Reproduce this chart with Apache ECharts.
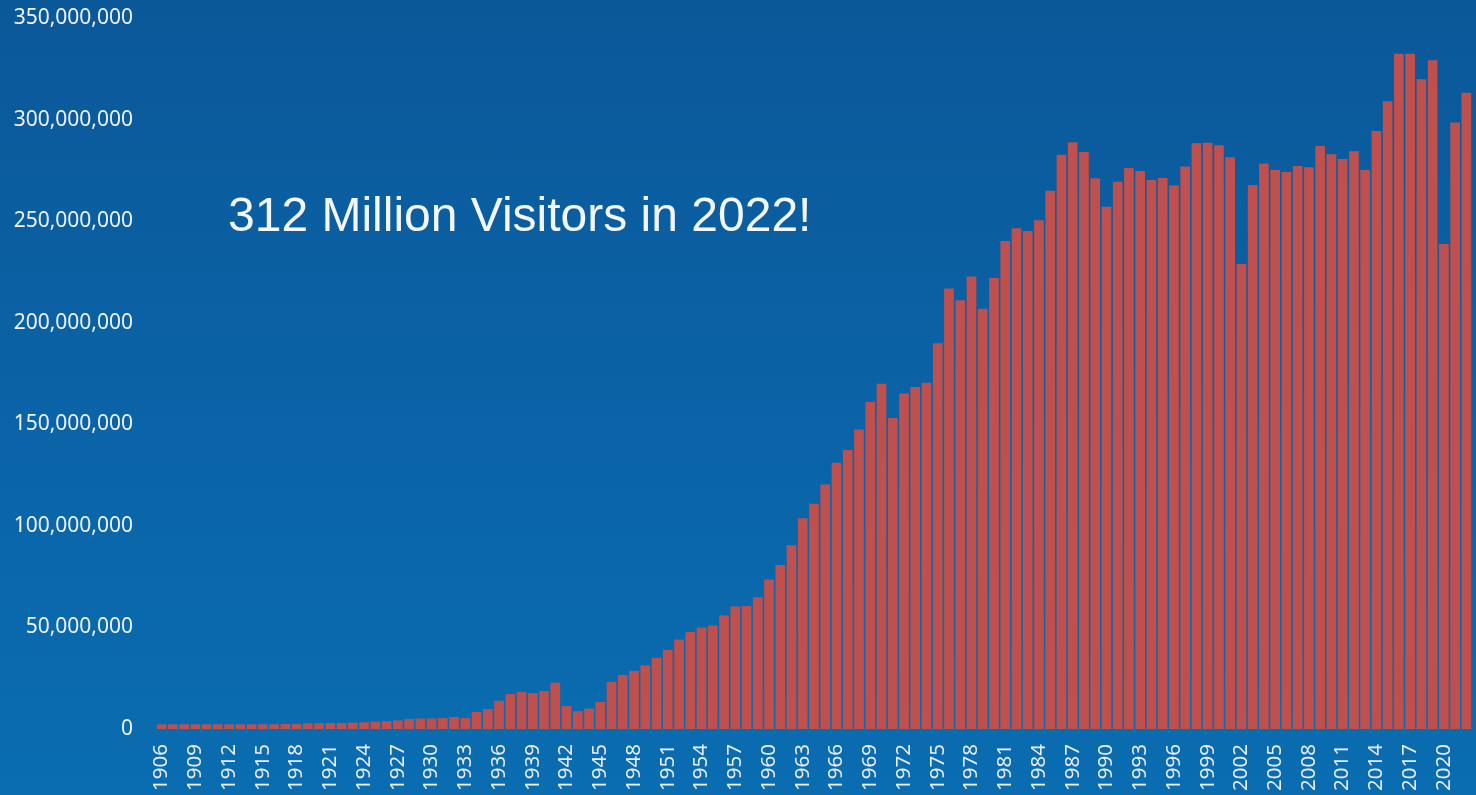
<!DOCTYPE html>
<html>
<head>
<meta charset="utf-8">
<script src="https://cdn.jsdelivr.net/npm/echarts@6/dist/echarts.min.js"></script>
<style>
html,body{margin:0;padding:0;width:1476px;height:795px;overflow:hidden;}
#c{width:1476px;height:795px;background:linear-gradient(180deg,#0b5899 0%,#0a63a6 50%,#0a6db1 100%);}
</style>
</head>
<body>
<div id="c"></div>
<script>
// Years 1906..2022
const years = [];
for (let y = 1906; y <= 2022; y++) years.push(String(y));

// Visitors in millions
const visitorsMillions = [
  2.3, 2.3, 2.3, 2.3, 2.3, 2.3, 2.3, 2.3, 2.3, 2.3,   // 1906-1915
  2.3, 2.5, 2.4, 2.8, 2.9, 2.9, 2.9, 3.1, 3.3, 3.6,   // 1916-1925
  3.8, 4.2, 4.9, 5.2, 5.2, 5.4, 5.9, 5.4, 8.4, 9.8,   // 1926-1935
  13.9, 17.2, 18.2, 17.6, 18.7, 22.8, 11.3, 8.7, 10.0, 13.3, // 1936-1945
  23.1, 26.6, 28.6, 31.3, 35.0, 38.9, 44.1, 47.8, 50.0, 50.9, // 1946-1955
  55.9, 60.3, 60.6, 64.9, 73.6, 80.7, 90.4, 103.7, 110.9, 120.4, // 1956-1965
  131.1, 137.3, 147.4, 161.0, 170.0, 153.1, 165.1, 168.4, 170.5, 189.9, // 1966-1975
  216.9, 211.0, 222.7, 206.9, 222.0, 240.2, 246.5, 245.2, 250.4, 265.0, // 1976-1985
  282.7, 288.8, 284.0, 271.1, 257.1, 269.4, 276.2, 274.7, 270.3, 271.2, // 1986-1995
  267.5, 276.9, 288.3, 288.6, 287.3, 281.4, 228.9, 267.8, 278.4, 275.2, // 1996-2005
  274.2, 277.1, 276.5, 287.0, 282.9, 280.6, 284.4, 275.2, 294.4, 309.0, // 2006-2015
  332.4, 332.4, 319.8, 329.2, 238.8, 298.6, 313.2                       // 2016-2022
];
const visitors = visitorsMillions.map(v => Math.round(v * 1e6));

const yTicks = { min: 0, max: 350000000, interval: 50000000 };
const headline = "312 Million Visitors in 2022!";

const chart = echarts.init(document.getElementById('c'));
chart.setOption({
  backgroundColor: 'transparent',
  animation: false,
  grid: { left: 156, right: 4, top: 18, bottom: 66, containLabel: false },
  xAxis: {
    type: 'category',
    data: years,
    axisLine: { show: false },
    axisTick: { show: false },
    axisLabel: {
      interval: 2,
      rotate: 90,
      color: '#e8eef5',
      fontFamily: 'Noto Sans',
      fontSize: 20.5,
      margin: 15
    }
  },
  yAxis: {
    type: 'value',
    min: yTicks.min,
    max: yTicks.max,
    interval: yTicks.interval,
    splitLine: { show: false },
    axisLine: { show: false },
    axisTick: { show: false },
    axisLabel: {
      color: '#eef3f8',
      fontFamily: 'Noto Sans',
      fontSize: 21,
      margin: 23,
      formatter: v => v.toLocaleString('en-US')
    }
  },
  series: [{
    type: 'bar',
    data: visitors,
    barCategoryGap: '14%',
    itemStyle: { color: '#c0504d' }
  }],
  graphic: [{
    type: 'text',
    left: 228,
    top: 194,
    style: {
      text: headline,
      fill: '#f4f7fa',
      font: '48px "Liberation Sans", Arial, sans-serif'
    }
  }]
});
</script>
</body>
</html>
